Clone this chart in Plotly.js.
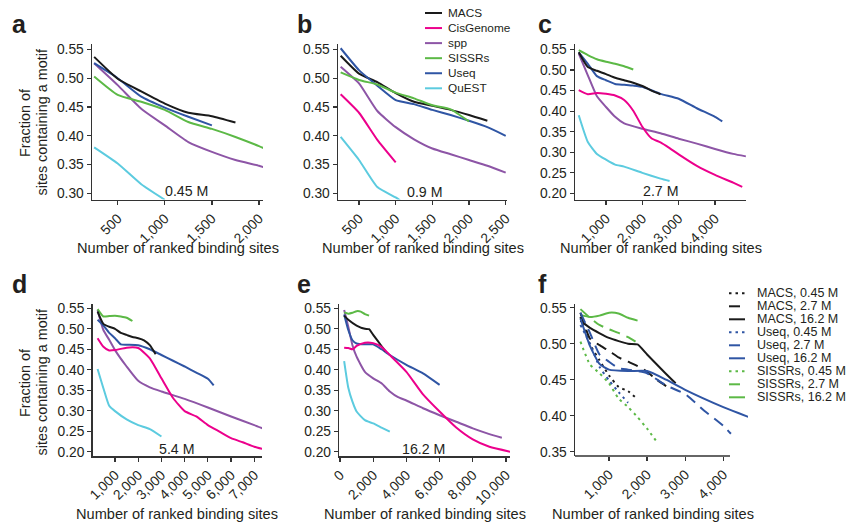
<!DOCTYPE html>
<html><head><meta charset="utf-8">
<script src="https://cdn.plot.ly/plotly-3.0.1.min.js"></script>
<style>html,body{margin:0;padding:0;background:#fff}</style>
</head><body><div id="chart" style="width:849px;height:525px"></div>
<script>
// ---------------- DATA ----------------
const seriesNames = ['MACS','CisGenome','spp','SISSRs','Useq','QuEST'];
const panelLetters = ['a','b','c','d','e','f'];
const depthLabels = ['0.45 M','0.9 M','2.7 M','5.4 M','16.2 M'];
const xTitle = 'Number of ranked binding sites';
const yTitle1 = 'Fraction of';
const yTitle2 = 'sites containing a motif';

// tick values
const xTicksA = [500,1000,1500,2000];
const xTicksB = [500,1000,1500,2000,2500];
const xTicksC = [1000,2000,3000,4000];
const xTicksD = [1000,2000,3000,4000,5000,6000,7000];
const xTicksE = [0,2000,4000,6000,8000,10000];
const xTicksF = [1000,2000,3000,4000];
const yTicksABC = [0.30,0.35,0.40,0.45,0.50,0.55];
const yTicksCDE = [0.20,0.25,0.30,0.35,0.40,0.45,0.50,0.55];
const yTicksF = [0.35,0.40,0.45,0.50,0.55];

// Panel a (0.45 M)
const aMACS_x = [250,500,750,1000,1250,1500,1750];
const aMACS_y = [0.537,0.499,0.477,0.456,0.440,0.434,0.423];
const aUseq_x = [250,500,750,1000,1250,1500];
const aUseq_y = [0.526,0.500,0.468,0.449,0.433,0.418];
const aSISSRs_x = [250,500,750,1000,1250,1500,1750,2000,2250];
const aSISSRs_y = [0.503,0.471,0.459,0.445,0.424,0.412,0.398,0.382,0.364];
const aSpp_x = [250,500,750,1000,1250,1500,1750,2000,2060];
const aSpp_y = [0.526,0.488,0.447,0.418,0.389,0.372,0.358,0.348,0.345];
const aQuEST_x = [250,500,750,1000];
const aQuEST_y = [0.380,0.352,0.316,0.289];

// Panel b (0.9 M)
const bMACS_x = [250,500,750,1000,1250,1500,1750,2000,2250];
const bMACS_y = [0.539,0.508,0.493,0.474,0.459,0.452,0.445,0.436,0.426];
const bCis_x = [250,500,750,1000];
const bCis_y = [0.472,0.440,0.393,0.354];
const bSpp_x = [250,500,750,1000,1250,1500,1750,2000,2250,2500];
const bSpp_y = [0.520,0.491,0.443,0.415,0.394,0.378,0.368,0.358,0.348,0.336];
const bSISSRs_x = [250,500,750,1000,1250,1500,1750,2000];
const bSISSRs_y = [0.510,0.497,0.489,0.475,0.465,0.453,0.446,0.425];
const bUseq_x = [250,500,750,1000,1250,1500,1750,2000,2250,2500];
const bUseq_y = [0.552,0.514,0.487,0.462,0.455,0.445,0.436,0.426,0.415,0.400];
const bQuEST_x = [250,500,750,1000,1060];
const bQuEST_y = [0.398,0.358,0.311,0.293,0.288];

// Panel c (2.7 M)
const cMACS_x = [250,500,750,1000,1250,1500,1750,2000,2250,2500];
const cMACS_y = [0.543,0.507,0.498,0.490,0.481,0.475,0.469,0.461,0.450,0.441];
const cCis_x = [250,500,750,1000,1250,1500,1750,2000,2250,2500,2750,3000,3500,4000,4500,4750];
const cCis_y = [0.451,0.441,0.444,0.442,0.438,0.427,0.401,0.362,0.334,0.324,0.310,0.295,0.267,0.245,0.226,0.216];
const cSpp_x = [250,500,750,1000,1250,1500,2000,2500,3000,3500,4000,4500,4850];
const cSpp_y = [0.540,0.487,0.436,0.410,0.386,0.370,0.357,0.346,0.333,0.321,0.308,0.296,0.290];
const cSISSRs_x = [250,500,750,1000,1250,1500,1750];
const cSISSRs_y = [0.548,0.536,0.526,0.520,0.515,0.509,0.501];
const cUseq_x = [250,500,750,1000,1250,1500,1750,2000,2500,3000,3500,4000,4200];
const cUseq_y = [0.543,0.515,0.485,0.475,0.466,0.464,0.462,0.459,0.442,0.430,0.407,0.386,0.375];
const cQuEST_x = [250,500,750,1000,1250,1500,2000,2500,2750];
const cQuEST_y = [0.390,0.325,0.296,0.282,0.270,0.265,0.250,0.236,0.230];

// Panel d (5.4 M)
const dMACS_x = [250,500,750,1000,1250,1500,1750,2000,2250,2500,2750];
const dMACS_y = [0.542,0.512,0.505,0.500,0.490,0.485,0.480,0.477,0.472,0.460,0.438];
const dCis_x = [250,500,750,1000,1500,2000,2500,3000,3500,4000,4500,5000,5500,6000,6500,7000,7400];
const dCis_y = [0.477,0.456,0.447,0.448,0.454,0.453,0.428,0.379,0.331,0.299,0.286,0.265,0.249,0.233,0.223,0.212,0.206];
const dSpp_x = [250,500,750,1000,1500,2000,2500,3000,4000,5000,6000,7000,7400];
const dSpp_y = [0.546,0.497,0.473,0.448,0.408,0.373,0.357,0.347,0.329,0.308,0.286,0.265,0.256];
const dSISSRs_x = [250,500,750,1000,1250,1500,1750];
const dSISSRs_y = [0.548,0.530,0.531,0.532,0.530,0.527,0.519];
const dUseq_x = [250,500,750,1000,1250,1500,2000,2500,3000,3500,4000,4500,5000,5250];
const dUseq_y = [0.522,0.508,0.490,0.477,0.462,0.461,0.460,0.450,0.436,0.422,0.408,0.393,0.378,0.362];
const dQuEST_x = [250,500,750,1000,1500,2000,2500,3000];
const dQuEST_y = [0.402,0.355,0.312,0.299,0.279,0.265,0.255,0.237];

// Panel e (16.2 M)
const eMACS_x = [250,500,1000,1500,1750,2000,2500,2750];
const eMACS_y = [0.532,0.522,0.508,0.500,0.499,0.485,0.458,0.445];
const eCis_x = [250,500,750,1000,1500,2000,2500,3000,4000,5000,6000,7000,8000,9000,10250];
const eCis_y = [0.454,0.453,0.450,0.458,0.466,0.465,0.456,0.436,0.395,0.340,0.298,0.259,0.230,0.212,0.200];
const eSpp_x = [250,500,750,1000,1500,2000,2500,3000,3500,4000,5000,6000,7000,8000,9000,9750];
const eSpp_y = [0.546,0.505,0.460,0.432,0.395,0.379,0.367,0.347,0.333,0.325,0.306,0.289,0.273,0.257,0.243,0.234];
const eSISSRs_x = [250,500,750,1000,1250,1500,1750];
const eSISSRs_y = [0.540,0.537,0.539,0.543,0.542,0.536,0.532];
const eUseq_x = [250,500,750,1000,1500,2000,2500,3000,4000,5000,6000];
const eUseq_y = [0.535,0.497,0.472,0.464,0.462,0.462,0.450,0.436,0.412,0.391,0.363];
const eQuEST_x = [250,500,750,1000,1500,2000,2500,3000];
const eQuEST_y = [0.421,0.356,0.322,0.298,0.277,0.269,0.259,0.249];

// Panel f legend labels
const fLegendLabels = ['MACS, 0.45 M','MACS, 2.7 M','MACS, 16.2 M','Useq, 0.45 M','Useq, 2.7 M','Useq, 16.2 M','SISSRs, 0.45 M','SISSRs, 2.7 M','SISSRs, 16.2 M'];

// ---------------- STYLE / LAYOUT ----------------
const W = 849, H = 525;
const FONT = 'Liberation Sans, Arial, Helvetica, sans-serif';
const TXT = '#231f20';
const AX = '#333333';
const colors = {MACS:'#1a1a1a', CisGenome:'#ec008c', spp:'#8d55a6', SISSRs:'#5cb946', Useq:'#2f55a4', QuEST:'#5ccbdf'};
const dashDot = '2.5px,4px', dashDash = '11px,7px';

function px2fx(p){ return p / W; }
function py2fy(p){ return 1 - p / H; }

function mkX(px0, px1, v1, p1, v2, p2, tickvals, anchor, showline){
  const s = (v2 - v1) / (p2 - p1);
  return {
    domain:[px2fx(px0), px2fx(px1)], range:[v1 + (px0 - p1)*s, v1 + (px1 - p1)*s],
    anchor:anchor, tickmode:'array', tickvals:tickvals,
    ticktext: tickvals.map(v => v.toLocaleString('en-US')),
    tickangle:-45, showline:showline, linecolor:AX, linewidth:1.5,
    ticks:'outside', ticklen:4, tickwidth:1.2, tickcolor:AX,
    showgrid:false, zeroline:false,
    tickfont:{family:FONT, size:13.8, color:TXT}
  };
}
function mkY(pyTop, pyBot, v1, p1, v2, p2, tickvals, anchor){
  const s = (v2 - v1) / (p2 - p1);
  return {
    domain:[py2fy(pyBot), py2fy(pyTop)], range:[v1 + (pyBot - p1)*s, v1 + (pyTop - p1)*s],
    anchor:anchor, tickmode:'array', tickvals:tickvals,
    ticktext: tickvals.map(v => v.toFixed(2)),
    showline:true, linecolor:AX, linewidth:1.5,
    ticks:'outside', ticklen:4, tickwidth:1.2, tickcolor:AX,
    showgrid:false, zeroline:false,
    tickfont:{family:FONT, size:13.8, color:TXT}
  };
}

const traces = [];
function line(ax, x, y, color, dash){
  traces.push({type:'scatter', mode:'lines', x:x, y:y,
    xaxis:'x'+(ax===1?'':ax), yaxis:'y'+(ax===1?'':ax),
    line:{color:color, width:2, dash:dash||'solid', shape:'spline', smoothing:0.5},
    showlegend:false, hoverinfo:'skip'});
}

// a
line(1, aQuEST_x, aQuEST_y, colors.QuEST);
line(1, aSpp_x, aSpp_y, colors.spp);
line(1, aSISSRs_x, aSISSRs_y, colors.SISSRs);
line(1, aUseq_x, aUseq_y, colors.Useq);
line(1, aMACS_x, aMACS_y, colors.MACS);
// b
line(2, bQuEST_x, bQuEST_y, colors.QuEST);
line(2, bCis_x, bCis_y, colors.CisGenome);
line(2, bSpp_x, bSpp_y, colors.spp);
line(2, bMACS_x, bMACS_y, colors.MACS);
line(2, bUseq_x, bUseq_y, colors.Useq);
line(2, bSISSRs_x, bSISSRs_y, colors.SISSRs);
// c
line(3, cQuEST_x, cQuEST_y, colors.QuEST);
line(3, cSpp_x, cSpp_y, colors.spp);
line(3, cCis_x, cCis_y, colors.CisGenome);
line(3, cSISSRs_x, cSISSRs_y, colors.SISSRs);
line(3, cUseq_x, cUseq_y, colors.Useq);
line(3, cMACS_x, cMACS_y, colors.MACS);
// d
line(4, dQuEST_x, dQuEST_y, colors.QuEST);
line(4, dSpp_x, dSpp_y, colors.spp);
line(4, dCis_x, dCis_y, colors.CisGenome);
line(4, dSISSRs_x, dSISSRs_y, colors.SISSRs);
line(4, dUseq_x, dUseq_y, colors.Useq);
line(4, dMACS_x, dMACS_y, colors.MACS);
// e
line(5, eQuEST_x, eQuEST_y, colors.QuEST);
line(5, eSpp_x, eSpp_y, colors.spp);
line(5, eSISSRs_x, eSISSRs_y, colors.SISSRs);
line(5, eUseq_x, eUseq_y, colors.Useq);
line(5, eMACS_x, eMACS_y, colors.MACS);
line(5, eCis_x, eCis_y, colors.CisGenome);
// f : same experiments, three depths
line(6, aSISSRs_x, aSISSRs_y, colors.SISSRs, dashDot);
line(6, cSISSRs_x, cSISSRs_y, colors.SISSRs, dashDash);
line(6, eSISSRs_x, eSISSRs_y, colors.SISSRs);
line(6, aMACS_x, aMACS_y, colors.MACS, dashDot);
line(6, cMACS_x, cMACS_y, colors.MACS, dashDash);
line(6, eMACS_x, eMACS_y, colors.MACS);
line(6, aUseq_x, aUseq_y, colors.Useq, dashDot);
line(6, cUseq_x, cUseq_y, colors.Useq, dashDash);
line(6, eUseq_x, eUseq_y, colors.Useq);

const layout = {
  width:W, height:H, autosize:false,
  margin:{l:0,r:0,t:0,b:0}, paper_bgcolor:'#fff', plot_bgcolor:'rgba(0,0,0,0)',
  showlegend:false, font:{family:FONT, color:TXT},
  xaxis:  mkX(92, 263, 500, 117.7, 2000, 259, xTicksA, 'y', true),
  yaxis:  mkY(44, 199.5, 0.55, 49.4, 0.30, 193.4, yTicksABC, 'x'),
  xaxis2: mkX(338, 507, 500, 359, 2500, 505.7, xTicksB, 'y2', true),
  yaxis2: mkY(44, 199.5, 0.55, 49.4, 0.30, 193.4, yTicksABC, 'x2'),
  xaxis3: mkX(575, 746, 1000, 606, 4000, 715, xTicksC, 'y3', true),
  yaxis3: mkY(44, 199.5, 0.55, 49.4, 0.20, 193.4, yTicksCDE, 'x3'),
  xaxis4: mkX(92.7, 262, 1000, 115, 7000, 254.3, xTicksD, 'y4', true),
  yaxis4: mkY(304, 456, 0.55, 308.3, 0.20, 451.7, yTicksCDE, 'x4'),
  xaxis5: mkX(339.3, 510, 0, 340, 10000, 506, xTicksE, 'y5', true),
  yaxis5: mkY(304, 456, 0.55, 308.3, 0.20, 451.7, yTicksCDE, 'x5'),
  xaxis6: mkX(575, 748, 1000, 609, 4000, 723.3, xTicksF, 'y6', false),
  yaxis6: mkY(304, 456, 0.55, 307.7, 0.35, 451.7, yTicksF, 'x6'),
  shapes:[], annotations:[]
};

// f x-axis line (axis drawn shorter than the data area)
layout.shapes.push({type:'line', xref:'paper', yref:'paper', x0:px2fx(575), x1:px2fx(730), y0:py2fy(456), y1:py2fy(456), line:{color:AX, width:1.5}});

function ann(text, px, py, size, opts){
  layout.annotations.push(Object.assign({text:text, xref:'paper', yref:'paper', x:px2fx(px), y:py2fy(py),
    showarrow:false, xanchor:'center', yanchor:'middle', font:{family:FONT, size:size, color:TXT}}, opts||{}));
}

// panel letters
const letterPos = [[10,24.5],[295,24.5],[536,24.5],[10,283.5],[295,283.5],[536,283.5]];
panelLetters.forEach((l,i)=> ann('<b>'+l+'</b>', letterPos[i][0], letterPos[i][1], 25, {xanchor:'left'}));

// x titles
[[177.5,248],[422.5,248],[660.5,248],[177.3,514],[424.6,514],[652.5,514]].forEach(p=> ann(xTitle, p[0], p[1], 14.6));
// y titles
[122.5, 382.5].forEach(py=>{
  ann(yTitle1, 24.5, py, 14.4, {textangle:-90});
  ann(yTitle2, 41, py, 14.4, {textangle:-90});
});
// depth labels
[[186,191],[424.5,192],[660.5,190.7],[176,449.3],[423.5,449]].forEach((p,i)=> ann(depthLabels[i], p[0], p[1], 14.2));

// main legend
seriesNames.forEach((n,i)=>{
  const py = 13 + 15.06*i;
  layout.shapes.push({type:'line', xref:'paper', yref:'paper', x0:px2fx(425), x1:px2fx(442), y0:py2fy(py), y1:py2fy(py), line:{color:colors[n], width:2}});
  ann(n, 446, py, 11.8, {xanchor:'left'});
});
// panel f legend
const fLegColors = [colors.MACS,colors.MACS,colors.MACS,colors.Useq,colors.Useq,colors.Useq,colors.SISSRs,colors.SISSRs,colors.SISSRs];
const fLegDash = [dashDot,dashDash,'solid',dashDot,dashDash,'solid',dashDot,dashDash,'solid'];
fLegendLabels.forEach((t,i)=>{
  const py = 293.3 + 13*i;
  layout.shapes.push({type:'line', xref:'paper', yref:'paper', x0:px2fx(729), x1:px2fx(745), y0:py2fy(py), y1:py2fy(py), line:{color:fLegColors[i], width:2, dash:fLegDash[i]}});
  ann(t, 755, py, 12.5, {xanchor:'left'});
});

Plotly.newPlot('chart', traces, layout, {staticPlot:true, displayModeBar:false});
</script></body></html>
